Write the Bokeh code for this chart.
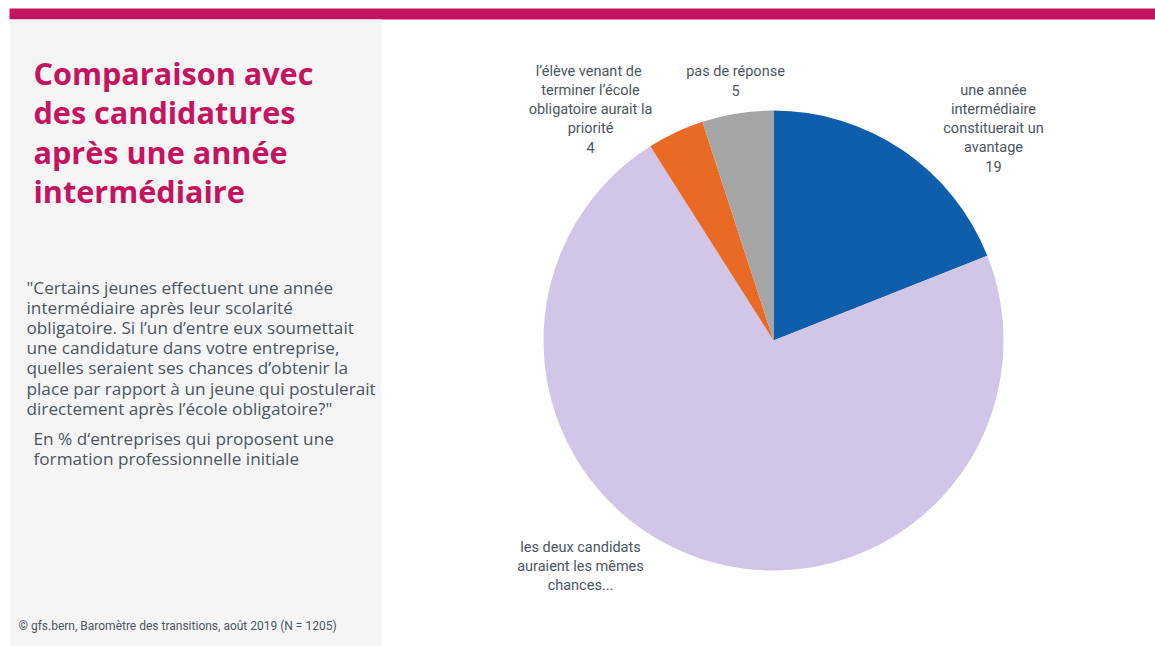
from math import pi
from bokeh.plotting import figure
from bokeh.models import Range1d, ColumnDataSource
from bokeh.core.properties import value
from bokeh.embed import file_html
from bokeh.resources import INLINE

# ---- data ----
categories = [
    "une année\nintermédiaire\nconstituerait un\navantage",
    "les deux candidats\nauraient les mêmes\nchances...",
    "l’élève venant  de\nterminer l’école\nobligatoire aurait la\npriorité",
    "pas de réponse",
]
values = [19, 72, 4, 5]
show_value = [True, False, True, True]
colors = ["#0F5EAC", "#D1C5E8", "#E86A25", "#A5A5A5"]

title_lines = ["Comparaison avec", "des candidatures", "après une année", "intermédiaire"]
question_lines = [
    "\"Certains jeunes effectuent une année",
    "intermédiaire après leur scolarité",
    "obligatoire. Si l’un d’entre eux soumettait",
    "une candidature dans votre entreprise,",
    "quelles seraient ses chances d’obtenir la",
    "place par rapport à un jeune qui postulerait",
    "directement après l’école obligatoire?\"",
]
basis_lines = ["En % d‘entreprises qui proposent une", "formation professionnelle initiale"]
source_text = "© gfs.bern, Baromètre des transitions, août 2019 (N = 1205)"

# ---- layout (screen pixels -> data coords) ----
W, H = 1155, 646
def X(sx): return sx
def Y(sy): return H - sy

p = figure(width=W, height=H, output_backend="svg", toolbar_location=None,
           x_range=Range1d(0, W), y_range=Range1d(0, H), min_border=0)
p.axis.visible = False
p.grid.visible = False
p.outline_line_color = None
p.background_fill_color = "white"
p.border_fill_color = "white"

MAGENTA = "#C5135F"
TXT = "#4B5661"

# top bar and side panel
p.quad(left=[X(9)], right=[X(1155)], top=[Y(8)], bottom=[Y(19)], fill_color=MAGENTA, line_color=None)
p.quad(left=[X(9)], right=[X(381)], top=[Y(19)], bottom=[Y(646)], fill_color="#F5F5F5", line_color=None)

def lines(x, y0, dy, texts, size, color, font, style="normal", align="left"):
    src = ColumnDataSource(dict(x=[X(x)] * len(texts),
                                y=[Y(y0 + i * dy) for i in range(len(texts))],
                                t=texts))
    p.text("x", "y", text="t", source=src, text_font=value(font), text_font_size=f"{size}px",
           text_color=color, text_font_style=style, text_align=align, text_baseline="middle")

lines(33, 72, 39.5, title_lines, 30.6, MAGENTA, "Open Sans", "bold")
lines(26, 287, 20.1, question_lines, 17.2, TXT, "Open Sans")
lines(33, 438, 20, basis_lines, 17.2, TXT, "Open Sans")
lines(18, 625, 0, [source_text], 12, TXT, "Roboto")

# ---- pie ----
cx, cy, r = X(773), Y(340), 230
total = sum(values)
cum = 0
starts, ends = [], []
for v in values:
    starts.append(pi / 2 - 2 * pi * cum / total)
    cum += v
    ends.append(pi / 2 - 2 * pi * cum / total)
ps = ColumnDataSource(dict(x=[cx] * 4, y=[cy] * 4, s=starts, e=ends, c=colors))
p.wedge("x", "y", radius=r, start_angle="s", end_angle="e", direction="clock",
        fill_color="c", line_color=None, source=ps)

# labels (position anchors = layout)
label_pos = [(993, 90), (580, 547), (590, 71), (735, 71)]
for cat, v, sv, (lx, ly) in zip(categories, values, show_value, label_pos):
    parts = cat.split("\n") + ([str(v)] if sv else [])
    lines(lx, ly, 19, parts, 14.5, TXT, "Roboto", align="center")

open("out.html", "w").write(file_html(p, INLINE))
